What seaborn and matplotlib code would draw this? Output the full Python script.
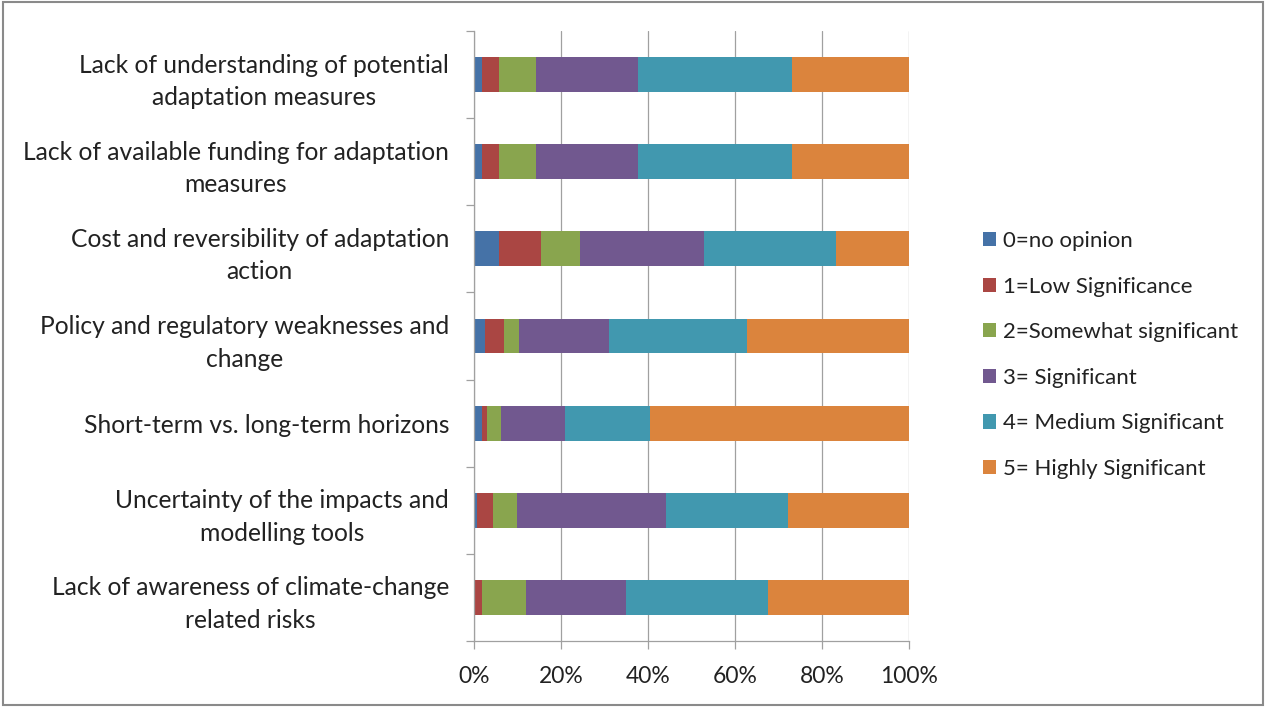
import numpy as np
import pandas as pd
import seaborn as sns
import matplotlib.pyplot as plt
from matplotlib.patches import Rectangle, Patch
from matplotlib.ticker import PercentFormatter

# Categories (top to bottom)
barreiras = [
    'Lack of understanding of potential\nadaptation measures',
    'Lack of available funding for adaptation\nmeasures',
    'Cost and reversibility of adaptation\naction',
    'Policy and regulatory weaknesses and\nchange',
    'Short-term vs. long-term horizons',
    'Uncertainty of the impacts and\nmodelling tools',
    'Lack of awareness of climate-change\nrelated risks',
]

niveis = ['0=no opinion', '1=Low Significance', '2=Somewhat significant',
          '3= Significant', '4= Medium Significant', '5= Highly Significant']

# Shares (%) for each level, one value per category
nivel_0 = [1.8, 1.8, 5.8, 2.5, 1.8, 0.7, 0.0]
nivel_1 = [3.9, 3.9, 9.7, 4.4, 1.2, 3.6, 1.9]
nivel_2 = [8.5, 8.5, 8.8, 3.5, 3.2, 5.6, 10.0]
nivel_3 = [23.6, 23.6, 28.6, 20.7, 14.8, 34.2, 23.0]
nivel_4 = [35.3, 35.3, 30.3, 31.6, 19.4, 28.0, 32.7]
nivel_5 = [26.9, 26.9, 16.8, 37.3, 59.6, 27.9, 32.4]

cores = ['#4572A7', '#AA4643', '#89A54E', '#71588F', '#4198AF', '#DB843D']

df = pd.DataFrame({'Barreira': barreiras})
for nome, vals in zip(niveis, [nivel_0, nivel_1, nivel_2, nivel_3, nivel_4, nivel_5]):
    df[nome] = vals
acum = df[niveis].cumsum(axis=1)

sns.set_style('white')
plt.rcParams['font.family'] = ['Lato', 'DejaVu Sans']

fig = plt.figure(figsize=(12.66, 7.07), dpi=100)
ax = fig.add_axes([474 / 1266, 1 - 641 / 707, (909 - 474) / 1266, (641 - 31) / 707])

# Stacked bars: draw cumulative totals from the largest down
for nome, cor in reversed(list(zip(niveis, cores))):
    sns.barplot(x=acum[nome], y=df['Barreira'], color=cor, orient='h',
                width=0.4, linewidth=0, saturation=1, ax=ax)

ax.set_xlim(0, 100)
ax.set_ylim(6.5, -0.5)
ax.set_xticks(np.arange(0, 101, 20))
ax.xaxis.set_major_formatter(PercentFormatter(decimals=0))
ax.grid(axis='x', color='#a0a0a0', linewidth=0.9)
ax.set_axisbelow(True)
ax.set_xlabel('')
ax.set_ylabel('')

for lado in ['top', 'right']:
    ax.spines[lado].set_visible(False)
for lado in ['left', 'bottom']:
    ax.spines[lado].set_color('#a0a0a0')
    ax.spines[lado].set_linewidth(0.9)

ax.set_yticks(np.arange(-0.5, 7, 1), minor=True)
ax.tick_params(axis='y', which='major', length=0, pad=18, labelsize=17.7, colors='#222222')
ax.tick_params(axis='y', which='minor', length=6, color='#a0a0a0', width=0.9, direction='out', left=True)
ax.tick_params(axis='x', length=6, color='#a0a0a0', width=0.9, direction='out', bottom=True,
               pad=12, labelsize=16.5, labelcolor='#222222')
for t in ax.get_yticklabels():
    t.set_multialignment('center')
    t.set_linespacing(1.5)

handles = [Patch(facecolor=c, edgecolor='none') for c in cores]
fig.legend(handles, niveis, loc='center left', bbox_to_anchor=(972 / 1266, 1 - 355 / 707),
           frameon=False, fontsize=16, handlelength=0.6, handleheight=0.6,
           handletextpad=0.3, labelspacing=1.15, borderpad=0, labelcolor='#222222')

fig.patches.append(Rectangle((0.002, 0.003), 0.996, 0.994, transform=fig.transFigure,
                             fill=False, edgecolor='#8a8a8a', linewidth=1.5))

fig.savefig('out.png', dpi=100)
